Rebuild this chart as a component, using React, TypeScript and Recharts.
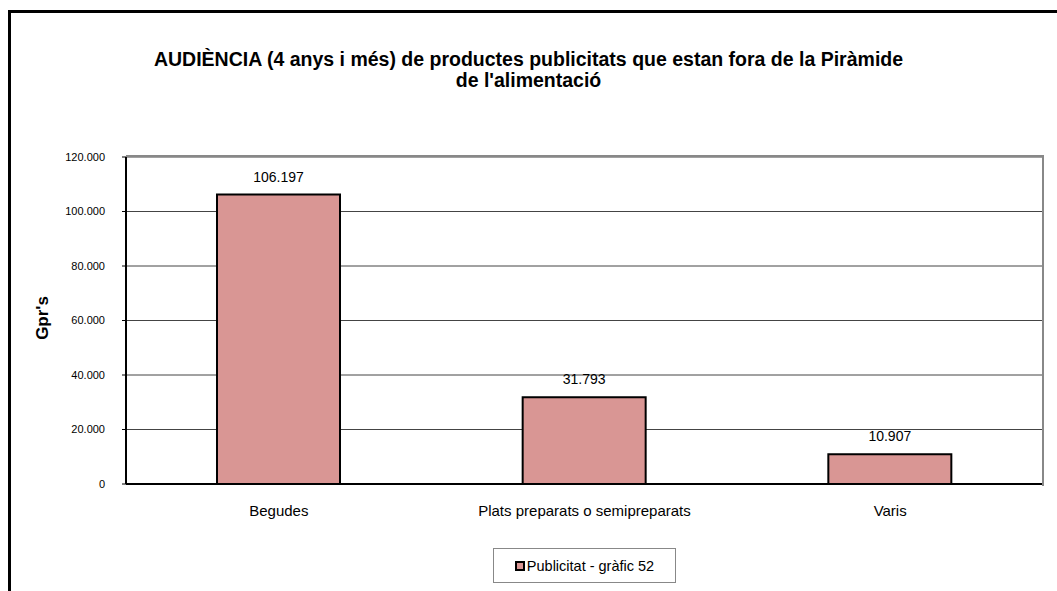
import { BarChart, Bar, XAxis, YAxis, CartesianGrid, LabelList } from "recharts";

// categories and values
const categories = ["Begudes", "Plats preparats o semipreparats", "Varis"];
const gprValues = [106197, 31793, 10907];
const yTicks = [0, 20000, 40000, 60000, 80000, 100000, 120000];

const seriesName = "Publicitat - gràfic 52";
const barFill = "#D99694";
const font = "Arial, 'Liberation Sans', sans-serif";

const data = categories.map((name, i) => ({ name, value: gprValues[i] }));

const fmt = (v: number) => v.toLocaleString("de-DE");

const App = () => {
  return (
    <div style={{ position: "absolute", left: 0, top: 0, width: 1057, height: 591, overflow: "hidden", background: "#fff", fontFamily: font }}>
      {/* outer chart frame, runs past the right and bottom edges */}
      <div style={{ position: "absolute", left: 8, top: 10, width: 1100, height: 700, border: "3px solid #000" }} />

      <div style={{ position: "absolute", left: 0, top: 49, width: 1057, textAlign: "center", fontWeight: "bold", fontSize: 19.5, lineHeight: "21px", color: "#000" }}>
        AUDIÈNCIA (4 anys i més) de productes publicitats que estan fora de la Piràmide
        <br />
        de l'alimentació
      </div>

      <BarChart
        width={1057}
        height={591}
        data={data}
        margin={{ top: 157, right: 14, bottom: 77, left: 66 }}
        style={{ position: "absolute", left: 0, top: 0 }}
      >
        <CartesianGrid vertical={false} stroke="#444" strokeWidth={1} />
        <XAxis
          dataKey="name"
          height={30}
          tickLine={false}
          axisLine={{ stroke: "#000", strokeWidth: 2 }}
          tickMargin={15}
          tick={{ fill: "#000", fontSize: 15, fontFamily: font }}
        />
        <YAxis
          width={60}
          domain={[0, 120000]}
          ticks={yTicks}
          tickFormatter={fmt}
          tickSize={4}
          tickMargin={17}
          axisLine={{ stroke: "#000", strokeWidth: 2 }}
          tickLine={{ stroke: "#000" }}
          tick={{ fill: "#000", fontSize: 11, fontFamily: font }}
        />
        <Bar dataKey="value" barSize={123} fill={barFill} stroke="#000" strokeWidth={2} isAnimationActive={false}>
          <LabelList dataKey="value" position="top" offset={13} formatter={(v: any) => fmt(Number(v))} style={{ fill: "#000", fontSize: 14, fontFamily: font }} />
        </Bar>
      </BarChart>

      {/* plot area border, top and right */}
      <div style={{ position: "absolute", left: 126, top: 155, width: 916, height: 329, borderTop: "2px solid #888", borderRight: "2px solid #888" }} />

      <div style={{ position: "absolute", left: 43, top: 318, transform: "translate(-50%, -50%) rotate(-90deg)", fontWeight: "bold", fontSize: 17, whiteSpace: "nowrap" }}>
        Gpr's
      </div>

      <div style={{ position: "absolute", left: 493, top: 548, width: 181, height: 33, border: "1px solid #888", display: "flex", alignItems: "center", justifyContent: "center", fontSize: 14.5 }}>
        <span style={{ display: "inline-block", width: 6, height: 6, background: barFill, border: "2px solid #000", marginRight: 2 }} />
        {seriesName}
      </div>
    </div>
  );
};

export default App;
